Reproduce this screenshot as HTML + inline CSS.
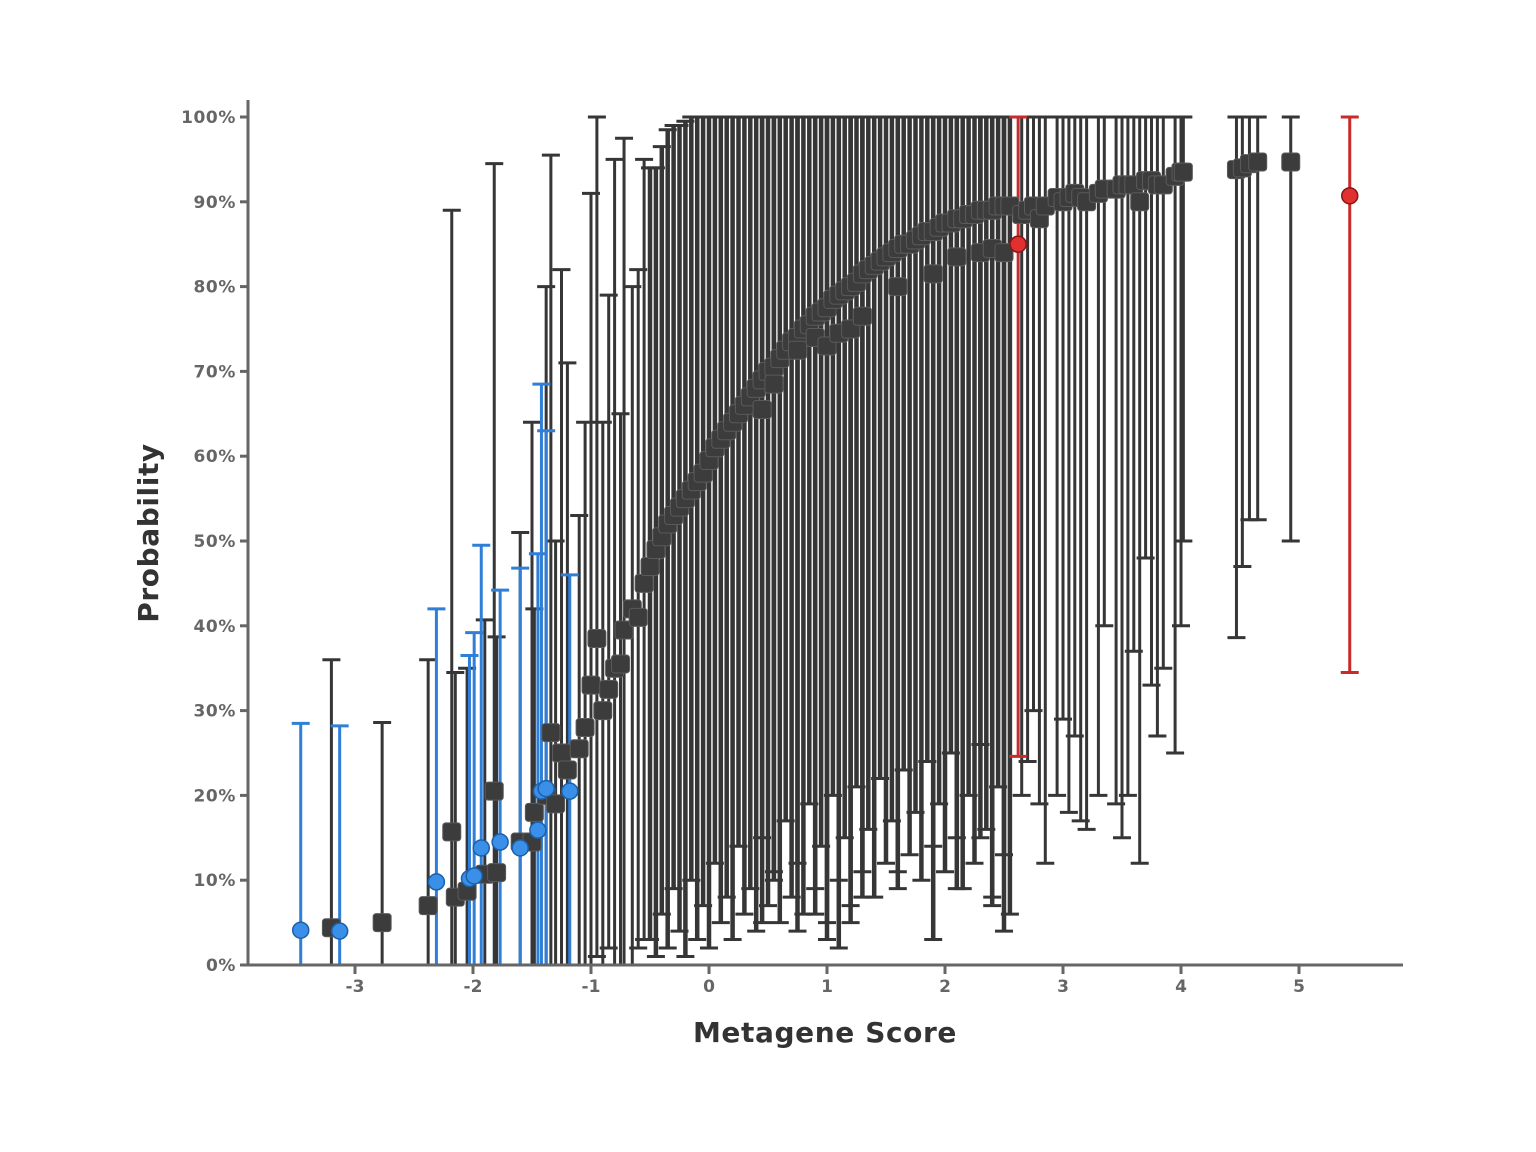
<!DOCTYPE html>
<html><head><meta charset="utf-8">
<style>
html,body{margin:0;padding:0;background:#fff;}
svg{display:block;font-family:"DejaVu Sans","Liberation Sans",sans-serif;}
</style></head>
<body>
<svg id="chart" width="1536" height="1152" viewBox="0 0 1536 1152" xmlns="http://www.w3.org/2000/svg">
<g id="bars"></g><g id="marks"></g><g id="axes"></g>
<text x="825" y="1042" text-anchor="middle" font-size="28" font-weight="bold" fill="#333" letter-spacing="0.6">Metagene Score</text>
<text x="158" y="533" text-anchor="middle" font-size="28" font-weight="bold" fill="#333" letter-spacing="0.6" transform="rotate(-90 158 533)">Probability</text>
</svg>
<script>
// Black (square) series
const blackX = [-3.2,-2.77,-2.38,-2.18,-2.15,-2.05,-1.9,-1.82,-1.8,-1.6,-1.5,-1.48,-1.38,-1.34,-1.3,-1.25,-1.2,-1.1,-1.05,-1.0,-0.95,-0.9,-0.85,-0.8,-0.75,-0.72,-0.65,-0.6,-0.55,
-0.5,-0.45,-0.4,-0.35,-0.3,-0.25,-0.2,-0.15,-0.1,-0.05,0,0.05,0.1,0.15,0.2,0.25,0.3,0.35,0.4,0.45,0.5,0.55,0.6,0.65,0.7,0.75,0.8,0.85,0.9,0.95,1.0,1.05,1.1,1.15,1.2,1.25,1.3,1.35,1.4,1.45,1.5,1.55,1.6,1.65,1.7,1.75,1.8,1.85,1.9,1.95,2.0,2.05,2.1,2.15,2.2,2.25,2.3,2.35,2.4,2.45,2.5,2.55,
0.75,0.9,1.0,1.1,1.2,1.3,1.6,1.9,2.1,2.3,2.4,2.5,0.55,0.45,
2.65,2.7,2.75,2.8,2.85,2.95,3.0,3.05,3.1,3.15,3.2,3.3,3.35,3.45,3.5,3.55,3.6,3.65,3.7,3.75,3.8,3.85,3.95,4.0,4.02,4.47,4.52,4.58,4.65,4.93];
const blackY = [4.4,5,7,15.7,8,8.7,10.7,20.5,10.9,14.5,14.5,18,20,27.4,19,25,23,25.5,28,33,38.5,30,32.5,35,35.5,39.5,42,41,45,
47,49,50.5,52,53,54,55,56,57,58,59.5,61,62,63,64,65,66,67,68,69,70,70.5,71.5,72.5,73.5,74,75,75.5,76.5,77,77.5,78.5,79,79.5,80,80.5,81.5,82,82.5,83,83.5,84,84.5,85,85,85.5,86,86.5,86.5,87,87.5,87.5,88,88,88.5,88.5,89,89,89,89.5,89.5,89.5,
72.5,74,73,74.5,75,76.5,80,81.5,83.5,84,84.5,84,68.5,65.5,
88.5,89,89.5,88,89.5,90.5,90,90.5,91,90.5,90,91,91.5,91.5,92,92,92,90,92.5,92.5,92,92,93,93.5,93.5,93.8,94,94.5,94.7,94.7];
const blackLo = [0,0,0,0,0,0,0,0,0,0,0,0,0,0,0,0,0,0,0,0,1,0,2,0,0,0,0,2,3,
3,1,6,2,9,4,1,10,3,7,2,12,5,8,3,14,6,9,4,15,7,11,5,17,8,12,6,19,9,14,5,20,10,15,7,21,11,16,8,22,12,17,9,23,13,18,10,24,14,19,11,25,15,9,20,12,26,16,8,21,13,6,
4,6,3,2,5,8,11,3,9,15,7,4,10,5,
20,24,30,19,12,20,29,18,27,17,16,20,40,19,15,20,37,12,48,33,27,35,25,40,50,38.6,47,52.5,52.5,50];
const blackHi = [36,28.6,36,89,34.5,35,40.7,94.5,38.7,51,64,42,80,95.5,50,82,71,53,64,91,100,64,79,95,65,97.5,80,82,95,
94,94,96.5,98.5,99,99,99.5,100,100,100,100,100,100,100,100,100,100,100,100,100,100,100,100,100,100,100,100,100,100,100,100,100,100,100,100,100,100,100,100,100,100,100,100,100,100,100,100,100,100,100,100,100,100,100,100,100,100,100,100,100,100,100,
100,100,100,100,100,100,100,100,100,100,100,100,100,100,
100,100,100,100,100,100,100,100,100,100,100,100,100,100,100,100,100,100,100,100,100,100,100,100,100,100,100,100,100,100];
// Blue (circle) series
const blueX = [-3.46,-3.13,-2.31,-2.03,-1.99,-1.93,-1.77,-1.6,-1.45,-1.42,-1.38,-1.18];
const blueY = [4.1,4,9.8,10.2,10.5,13.8,14.5,13.8,15.9,20.5,20.8,20.5];
const blueLo = [0,0,0,0,0,0,0,0,0,0,0,0];
const blueHi = [28.5,28.2,42,36.5,39.2,49.5,44.2,46.8,48.5,68.5,63,46];
// Red (circle) series
const redX = [2.62,5.43];
const redY = [85,90.7];
const redLo = [24.6,34.5];
const redHi = [100,100];
const xTicks = [-3,-2,-1,0,1,2,3,4,5];
const yTicks = [0,10,20,30,40,50,60,70,80,90,100];

const NS='http://www.w3.org/2000/svg';
const xs = v => 709 + v*118;
const ys = v => 965 - v*8.48;
const barsG=document.getElementById('bars'), marksG=document.getElementById('marks'), axesG=document.getElementById('axes');
function mk(tag, attrs, parent){const e=document.createElementNS(NS,tag);for(const k in attrs)e.setAttribute(k,attrs[k]);parent.appendChild(e);return e;}

function drawBars(X,Lo,Hi,color,name,dense){
  for(let i=0;i<X.length;i++){
    const x=xs(X[i]), y1=ys(Lo[i]), y2=ys(Hi[i]);
    const w = (dense && X[i]>=-0.5 && X[i]<=2.6) ? 4.5 : 3;
    const g=mk('g',{stroke:color,fill:'none'},barsG);
    
    
    mk('line',{x1:x,x2:x,y1:y1,y2:y2,'stroke-width':w},g);
    mk('line',{x1:x-9,x2:x+9,y1:y2,y2:y2,'stroke-width':3},g);
    mk('line',{x1:x-9,x2:x+9,y1:y1,y2:y1,'stroke-width':3},g);
  }
}
drawBars(blackX,blackLo,blackHi,'#363636','black',true);
drawBars(blueX,blueLo,blueHi,'#2f7fd8','blue',false);
drawBars(redX,redLo,redHi,'#c92a2a','red',false);

for(let i=0;i<blackX.length;i++){
  const r=mk('rect',{x:xs(blackX[i])-9,y:ys(blackY[i])-9,width:18,height:18,rx:3,fill:'#3c3c3c',stroke:'#5a5a5a','stroke-width':1},marksG);
  
  
}
function circles(X,Y,fill,stroke,name){
  for(let i=0;i<X.length;i++){
    const c=mk('circle',{cx:xs(X[i]),cy:ys(Y[i]),r:8,fill:fill,stroke:stroke,'stroke-width':1.5},marksG);
    
    
  }
}
circles(blueX,blueY,'#3a8fe8','#1d5fa8','blue');
circles(redX,redY,'#e03030','#8a1515','red');

const ya=mk('line',{x1:248,x2:248,y1:100,y2:966,stroke:'#666','stroke-width':3},axesG);


const xa=mk('line',{x1:247,x2:1403,y1:965,y2:965,stroke:'#666','stroke-width':3},axesG);


yTicks.forEach(t=>{
  const y=ys(t);
  mk('line',{x1:240,x2:248,y1:y,y2:y,stroke:'#666','stroke-width':3},axesG);
  const tx=mk('text',{x:236,y:y+6,'text-anchor':'end','font-size':17,'font-weight':'bold',fill:'#666','letter-spacing':0.6},axesG);
  tx.textContent=t+'%';
  
  
});
xTicks.forEach(t=>{
  const x=xs(t);
  mk('line',{x1:x,x2:x,y1:965,y2:974,stroke:'#666','stroke-width':3},axesG);
  const tx=mk('text',{x:x,y:992,'text-anchor':'middle','font-size':17,'font-weight':'bold',fill:'#666'},axesG);
  tx.textContent=t;
  
  
});
</script>
</body></html>
